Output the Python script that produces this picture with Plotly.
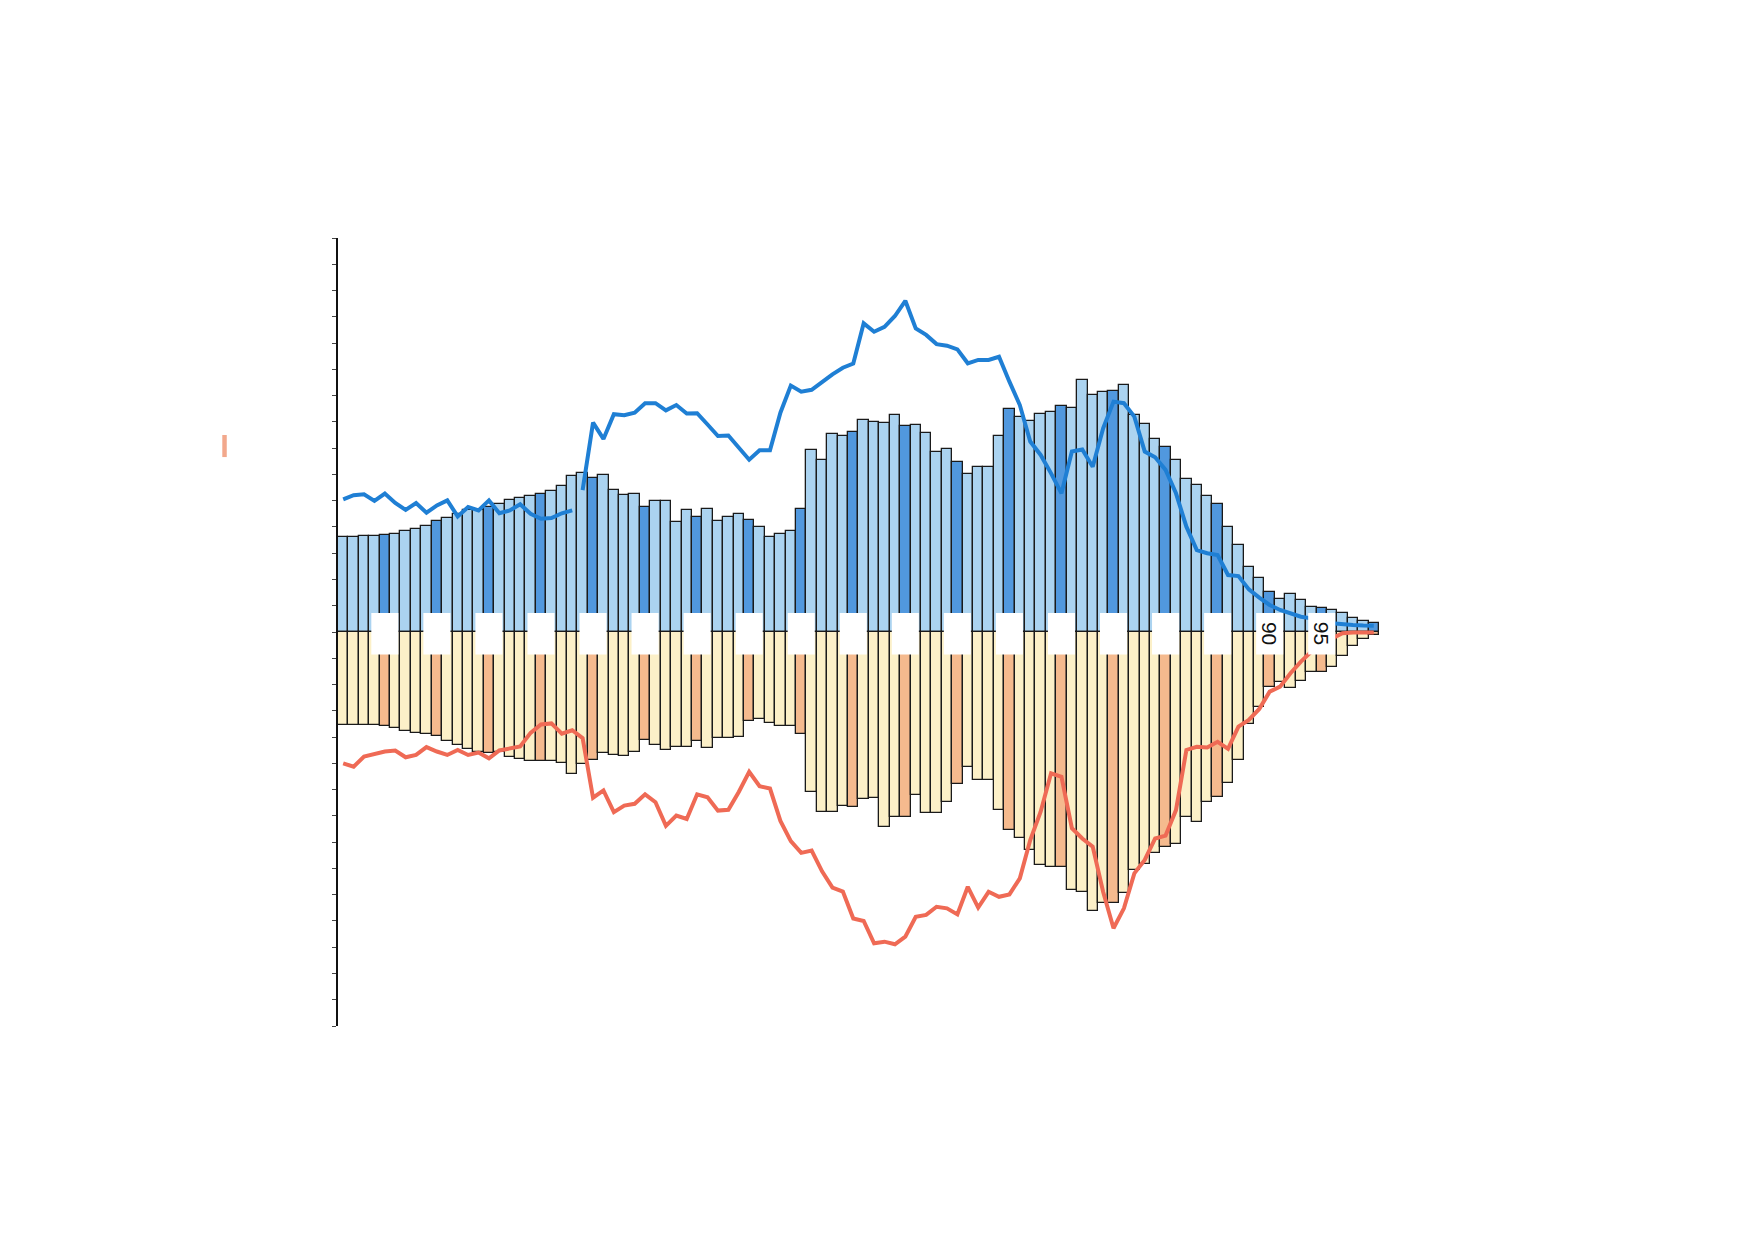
import plotly.graph_objects as go

ages = list(range(1, 101))

male = [3.60, 3.62, 3.65, 3.65, 3.70, 3.73, 3.86, 3.92, 4.05, 4.22,
        4.34, 4.50, 4.63, 4.65, 4.76, 4.88, 5.01, 5.12, 5.18, 5.27,
        5.37, 5.55, 5.94, 6.07, 5.85, 5.96, 5.42, 5.21, 5.27, 4.76,
        4.99, 4.99, 4.18, 4.63, 4.37, 4.69, 4.24, 4.37, 4.50, 4.27,
        4.01, 3.62, 3.73, 3.83, 4.69, 6.92, 6.56, 7.52, 7.46, 7.61,
        8.08, 8.01, 7.97, 8.26, 7.86, 7.88, 7.56, 6.87, 6.97, 6.48,
        6.00, 6.27, 6.27, 7.46, 8.48, 8.20, 8.05, 8.29, 8.39, 8.62,
        8.52, 9.59, 9.02, 9.14, 9.19, 9.42, 8.26, 7.92, 7.34, 7.03,
        6.55, 5.82, 5.60, 5.19, 4.86, 4.01, 3.31, 2.46, 2.07, 1.54,
        1.26, 1.43, 1.22, 0.94, 0.90, 0.84, 0.71, 0.55, 0.42, 0.33]

female = [3.55, 3.55, 3.53, 3.53, 3.59, 3.65, 3.78, 3.84, 3.87, 3.97,
          4.16, 4.29, 4.46, 4.55, 4.59, 4.55, 4.74, 4.82, 4.90, 4.91,
          4.91, 5.00, 5.39, 5.03, 4.87, 4.61, 4.68, 4.72, 4.55, 4.10,
          4.31, 4.51, 4.36, 4.38, 4.16, 4.42, 4.04, 4.04, 4.01, 3.39,
          3.33, 3.46, 3.56, 3.56, 3.87, 6.09, 6.86, 6.86, 6.61, 6.65,
          6.35, 6.33, 7.41, 7.03, 7.03, 6.21, 6.90, 6.90, 6.46, 5.80,
          5.13, 5.63, 5.63, 6.78, 7.54, 7.86, 8.30, 8.87, 8.93, 8.93,
          9.82, 9.89, 10.62, 10.33, 10.33, 9.95, 9.06, 8.85, 8.40, 8.17,
          8.08, 7.03, 7.22, 6.46, 6.27, 5.74, 4.87, 3.52, 2.84, 2.08,
          1.92, 2.12, 1.87, 1.51, 1.51, 1.32, 0.90, 0.52, 0.27, 0.11]

male_line = [5.05, 5.21, 5.24, 4.99, 5.27, 4.91, 4.65, 4.91, 4.54, 4.82,
             5.01, 4.40, 4.76, 4.63, 5.01, 4.52, 4.63, 4.86, 4.50, 4.31,
             4.34, 4.52, 4.63, 5.40, 7.97, 7.35, 8.29, 8.25, 8.35, 8.71,
             8.71, 8.44, 8.64, 8.32, 8.33, 7.90, 7.46, 7.48, 7.01, 6.56,
             6.92, 6.92, 8.35, 9.38, 9.15, 9.22, 9.51, 9.81, 10.06, 10.22,
             11.75, 11.43, 11.62, 12.03, 12.61, 11.56, 11.31, 10.96, 10.90, 10.76,
             10.23, 10.36, 10.36, 10.48, 9.53, 8.64, 7.25, 6.74, 6.04, 5.28,
             6.87, 6.95, 6.29, 7.75, 8.77, 8.71, 8.20, 6.87, 6.65, 6.17,
             5.28, 4.01, 3.12, 3.00, 2.93, 2.17, 2.13, 1.62, 1.31, 1.03,
             0.84, 0.69, 0.58, 0.52, 0.39, 0.33, 0.29, 0.27, 0.25, 0.24]
male_line_break = 23  # the blue line is interrupted after this age

female_line = [5.00, 5.13, 4.74, 4.65, 4.55, 4.51, 4.77, 4.68, 4.38, 4.55,
               4.68, 4.49, 4.68, 4.59, 4.81, 4.51, 4.45, 4.36, 3.84, 3.52,
               3.48, 3.87, 3.74, 4.04, 6.31, 6.03, 6.86, 6.61, 6.54, 6.18,
               6.48, 7.38, 6.99, 7.12, 6.18, 6.29, 6.80, 6.77, 6.09, 5.32,
               5.87, 5.96, 7.19, 7.96, 8.41, 8.32, 9.11, 9.73, 9.88, 10.91,
               11.00, 11.85, 11.79, 11.89, 11.60, 10.84, 10.77, 10.46, 10.52, 10.75,
               9.70, 10.49, 9.89, 10.08, 9.99, 9.38, 7.92, 6.84, 5.38, 5.51,
               7.47, 7.86, 8.17, 9.89, 11.28, 10.52, 9.19, 8.68, 7.86, 7.75,
               6.78, 4.49, 4.37, 4.40, 4.18, 4.45, 3.60, 3.35, 2.93, 2.27,
               2.08, 1.57, 1.13, 0.75, 0.37, 0.24, 0.05, 0.02, 0.02, 0.02]

label_ages = list(range(5, 100, 5))
shown_labels = {90: "90", 95: "95"}

# colours
M_LIGHT, M_DARK = "#abd3f0", "#5198de"
F_LIGHT, F_DARK = "#fcf0c8", "#f5ba8e"
BLUE_LINE, RED_LINE = "#1f7fd4", "#ef6a55"

m_colors = [M_DARK if a % 5 == 0 else M_LIGHT for a in ages]
f_colors = [F_DARK if a % 5 == 0 else F_LIGHT for a in ages]

fig = go.Figure()
fig.add_trace(go.Bar(x=ages, y=male, width=1, marker=dict(color=m_colors,
                     line=dict(color="#1a1a1a", width=1.3)), hoverinfo="x+y"))
fig.add_trace(go.Bar(x=ages, y=[-v for v in female], width=1, marker=dict(color=f_colors,
                     line=dict(color="#1a1a1a", width=1.3)), hoverinfo="x+y"))

k = male_line_break
fig.add_trace(go.Scatter(x=ages[:k], y=male_line[:k], mode="lines",
                         line=dict(color=BLUE_LINE, width=4)))
fig.add_trace(go.Scatter(x=ages[k:], y=male_line[k:], mode="lines",
                         line=dict(color=BLUE_LINE, width=4)))
fig.add_trace(go.Scatter(x=ages, y=[-v for v in female_line], mode="lines",
                         line=dict(color=RED_LINE, width=4)))

shapes = []
for a in label_ages:
    shapes.append(dict(type="rect", xref="x", yref="y", x0=a - 1.3, x1=a + 1.3,
                       y0=-0.86, y1=0.72, fillcolor="white", line=dict(width=0),
                       layer="above"))
# faded legend swatch at left
shapes.append(dict(type="rect", xref="paper", yref="paper", x0=-0.1035, x1=-0.0995,
                   y0=0.722, y1=0.75, fillcolor="#f2a88c", line=dict(width=0)))

annotations = []
for a, t in shown_labels.items():
    annotations.append(dict(x=a, y=-0.06, xref="x", yref="y", text=t, showarrow=False,
                            textangle=90, font=dict(family="Liberation Sans", size=21,
                                                    color="#111111")))

# page body adds an 8px margin, so the figure is sized to fit inside the window
fig.update_layout(
    width=1740, height=1224,
    margin=dict(l=330, r=292, t=230, b=206),
    paper_bgcolor="white", plot_bgcolor="white",
    showlegend=False, barmode="overlay", bargap=0,
    shapes=shapes, annotations=annotations,
    xaxis=dict(range=[0.5, 107.9], showline=False, showgrid=False, zeroline=False,
               showticklabels=False, ticks=""),
    yaxis=dict(range=[-15, 15], showline=True, linecolor="#111111", linewidth=2,
               showgrid=False, zeroline=False, ticks="outside", ticklen=4,
               tickcolor="#444444", dtick=1, showticklabels=False),
)

fig.write_html("out.html")
